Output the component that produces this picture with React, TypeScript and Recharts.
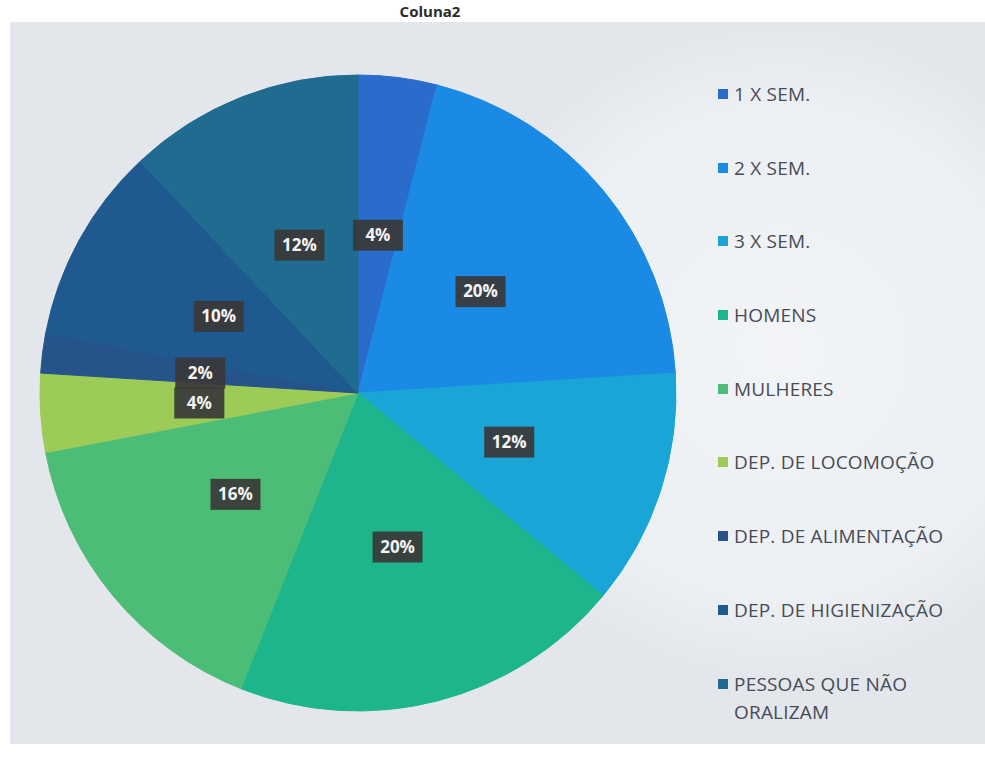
import React from "react";
import { PieChart, Pie, Cell, Legend } from "recharts";

const categories = [
  "1 X SEM.",
  "2 X SEM.",
  "3 X SEM.",
  "HOMENS",
  "MULHERES",
  "DEP. DE LOCOMOÇÃO",
  "DEP. DE ALIMENTAÇÃO",
  "DEP. DE HIGIENIZAÇÃO",
  "PESSOAS QUE NÃO ORALIZAM",
];
const values = [4, 20, 12, 20, 16, 4, 2, 10, 12];
const colors = [
  "#2a6ccc",
  "#1a8ae4",
  "#19a6d6",
  "#1db58c",
  "#4cbd76",
  "#9ccb58",
  "#25538a",
  "#1e5a90",
  "#1f6c90",
];
const title = "Coluna2";

const data = categories.map((name, i) => ({ name, value: values[i] }));

const RADIAN = Math.PI / 180;

const renderLabel = (props: any) => {
  const { cx, cy, midAngle, outerRadius, value } = props;
  const r = outerRadius * 0.5;
  const x = cx + r * Math.cos(-midAngle * RADIAN);
  const y = cy + r * Math.sin(-midAngle * RADIAN);
  const w = 50;
  const h = 31;
  return (
    <g>
      <rect x={x - w / 2} y={y - h / 2} width={w} height={h} fill="#3a3838" fillOpacity={0.92} />
      <text
        x={x}
        y={y + 1}
        fill="#f4f4f4"
        textAnchor="middle"
        dominantBaseline="middle"
        fontFamily="'Open Sans', sans-serif"
        fontWeight={700}
        fontSize={17}
      >
        {`${value}%`}
      </text>
    </g>
  );
};

const renderLegend = (props: any) => {
  const payload = [...(props.payload || [])].sort(
    (a: any, b: any) => categories.indexOf(a.value) - categories.indexOf(b.value)
  );
  return (
    <div style={{ fontFamily: "'Open Sans', sans-serif" }}>
      {payload.map((entry: any, i: number) => (
        <div
          key={i}
          style={{
            display: "flex",
            alignItems: "flex-start",
            height: 73.7,
            color: "#474c54",
            fontSize: 19,
            lineHeight: "28px",
          }}
        >
          <span
            style={{
              display: "inline-block",
              width: 10,
              height: 10,
              background: entry.color,
              marginTop: 9,
              marginRight: 6,
              flexShrink: 0,
            }}
          />
          <span style={{ width: 240, letterSpacing: 0.2 }}>{entry.value}</span>
        </div>
      ))}
    </div>
  );
};

export default function App() {
  return (
    <div
      style={{
        position: "absolute",
        left: 0,
        top: 0,
        width: 985,
        height: 774,
        overflow: "hidden",
        background: "#ffffff",
      }}
    >
      <div
        style={{
          position: "absolute",
          left: 10,
          top: 22,
          width: 975,
          height: 722,
          background:
            "radial-gradient(circle at 770px 330px, #f2f4f7 0px, #eceff3 250px, #e3e6eb 330px, #e3e6eb 100%)",
        }}
      />
      <div
        style={{
          position: "absolute",
          left: 0,
          top: 1,
          width: 860,
          textAlign: "center",
          fontFamily: "'Open Sans', sans-serif",
          fontWeight: 700,
          fontSize: 15,
          lineHeight: "20px",
          color: "#2b2b2b",
        }}
      >
        {title}
      </div>
      <div style={{ position: "absolute", left: 0, top: 0 }}>
        <PieChart width={985} height={774}>
          <Pie
            data={data}
            dataKey="value"
            nameKey="name"
            cx={353}
            cy={388}
            outerRadius={318}
            startAngle={90}
            endAngle={-270}
            label={renderLabel}
            labelLine={false}
            isAnimationActive={false}
          >
            {data.map((d, i) => (
              <Cell key={d.name} fill={colors[i]} stroke={colors[i]} strokeWidth={1} />
            ))}
          </Pie>
          <Legend
            content={renderLegend}
            layout="vertical"
            wrapperStyle={{ position: "absolute", left: 718, top: 80, width: 265 }}
          />
        </PieChart>
      </div>
    </div>
  );
}
